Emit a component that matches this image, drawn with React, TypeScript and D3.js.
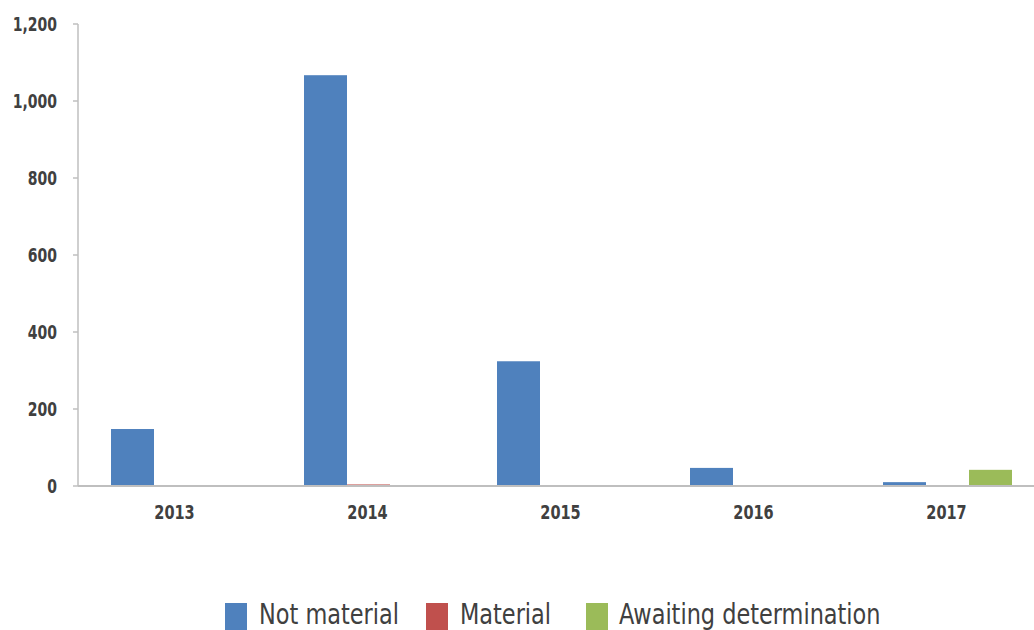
import React from "react";
import * as d3 from "d3";

const years = ["2013", "2014", "2015", "2016", "2017"];
const series = ["Not material", "Material", "Awaiting determination"];
const notMaterial = [148, 1067, 324, 47, 10];
const material = [0, 4, 0, 0, 0];
const awaiting = [0, 0, 0, 0, 42];
const yTicks = [0, 200, 400, 600, 800, 1000, 1200];
const colors = ["#4f81bd", "#c0504d", "#9bbb59"];

const W = 1034;
const H = 630;
const FONT = "'DejaVu Sans Condensed', 'Liberation Sans Narrow', sans-serif";

function CText({
  x,
  y,
  sx,
  anchor,
  size,
  weight,
  fill,
  children,
}: {
  x: number;
  y: number;
  sx: number;
  anchor: "start" | "middle" | "end";
  size: number;
  weight?: string;
  fill: string;
  children: React.ReactNode;
}) {
  return (
    <g transform={`translate(${x},${y}) scale(${sx},1)`}>
      <text
        x={0}
        y={0}
        textAnchor={anchor}
        fontFamily={FONT}
        fontWeight={weight || "normal"}
        fontSize={size}
        fill={fill}
      >
        {children}
      </text>
    </g>
  );
}

export default function App() {
  const values = [notMaterial, material, awaiting];
  const y = d3.scaleLinear().domain([0, 1200]).range([486, 24]);
  const x0 = d3.scaleBand().domain(years).range([78, 1043]).paddingInner(0).paddingOuter(0);
  const x1 = d3
    .scaleBand()
    .domain(series)
    .range([33, x0.bandwidth() - 31])
    .paddingInner(0);

  const legendItems = [
    { name: series[0], sx: 225, tx: 259 },
    { name: series[1], sx: 426, tx: 460 },
    { name: series[2], sx: 586, tx: 619 },
  ];

  return (
    <svg width={W} height={H} style={{ display: "block", position: "absolute", left: 0, top: 0 }}>
      <rect x={0} y={0} width={W} height={H} fill="#fff" />
      {/* y axis */}
      <line x1={78} x2={78} y1={y(1200)} y2={y(0)} stroke="#bfbfbf" strokeWidth={1.5} />
      {yTicks.map((t) => (
        <g key={t}>
          <line x1={73} x2={78} y1={y(t)} y2={y(t)} stroke="#bfbfbf" strokeWidth={1.5} />
          <CText x={57} y={y(t) + 7} sx={0.82} anchor="end" size={19} weight="bold" fill="#404040">
            {d3.format(",")(t)}
          </CText>
        </g>
      ))}
      {/* bars */}
      {years.map((yr, i) => (
        <g key={yr} transform={`translate(${x0(yr)},0)`}>
          {series.map((s, j) => {
            const v = values[j][i];
            if (!v) return null;
            return (
              <rect
                key={s}
                x={x1(s)}
                y={y(v)}
                width={x1.bandwidth()}
                height={y(0) - y(v)}
                fill={colors[j]}
              />
            );
          })}
        </g>
      ))}
      {/* x axis */}
      <line x1={78} x2={W} y1={486} y2={486} stroke="#bfbfbf" strokeWidth={2} />
      {years.map((yr) => (
        <CText
          key={yr}
          x={(x0(yr) as number) + x0.bandwidth() / 2}
          y={519}
          sx={0.85}
          anchor="middle"
          size={19}
          weight="bold"
          fill="#404040"
        >
          {yr}
        </CText>
      ))}
      {/* legend */}
      {legendItems.map((it, j) => (
        <g key={it.name}>
          <rect x={it.sx} y={603} width={22} height={27} fill={colors[j]} />
          <CText x={it.tx} y={624} sx={0.89} anchor="start" size={28} fill="#404040">
            {it.name}
          </CText>
        </g>
      ))}
    </svg>
  );
}
